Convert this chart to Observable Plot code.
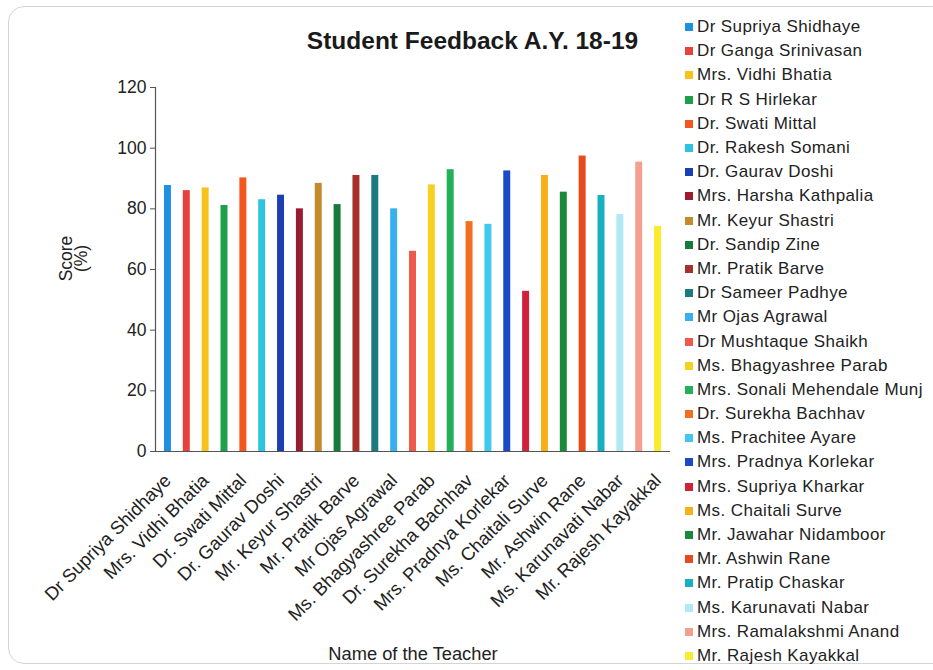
<!DOCTYPE html>
<html>
<head>
<meta charset="utf-8">
<script src="https://cdn.jsdelivr.net/npm/d3@7"></script>
<script src="https://cdn.jsdelivr.net/npm/@observablehq/plot@0.6"></script>
<style>
  body { margin: 0; background: #fff; }
  #wrap { position: relative; width: 933px; height: 670px; overflow: hidden; font-family: "Liberation Sans", Arial, sans-serif; }
  #frame { position: absolute; left: 8px; top: 6px; width: 940px; height: 658px; border: 1px solid #d4d4d4; border-radius: 16px; box-sizing: border-box; }
  #title { position: absolute; left: 0; width: 945px; top: 27px; text-align: center; font-weight: bold; font-size: 24.5px; color: #1a1a1a; }
  #legend { position: absolute; left: 685px; top: 15px; }
  .row { height: 24.2px; display: flex; align-items: center; font-size: 17px; color: #222; white-space: nowrap; letter-spacing: 0.4px; }
  .sw { width: 8px; height: 8px; margin-right: 4px; flex: none; }
  #chart { position: absolute; left: 0; top: 0; }
</style>
</head>
<body>
<div id="wrap">
  <div id="frame"></div>
  <div id="title">Student Feedback A.Y. 18-19</div>
  <div id="chart"></div>
  <div id="legend"></div>
</div>
<script>
const names = [
  "Dr Supriya Shidhaye", "Dr Ganga Srinivasan", "Mrs. Vidhi Bhatia", "Dr R S Hirlekar",
  "Dr. Swati Mittal", "Dr. Rakesh Somani", "Dr. Gaurav Doshi", "Mrs. Harsha Kathpalia",
  "Mr. Keyur Shastri", "Dr. Sandip Zine", "Mr. Pratik Barve", "Dr Sameer Padhye",
  "Mr Ojas Agrawal", "Dr Mushtaque Shaikh", "Ms. Bhagyashree Parab", "Mrs. Sonali Mehendale Munj",
  "Dr. Surekha Bachhav", "Ms. Prachitee Ayare", "Mrs. Pradnya Korlekar", "Mrs. Supriya Kharkar",
  "Ms. Chaitali Surve", "Mr. Jawahar Nidamboor", "Mr. Ashwin Rane", "Mr. Pratip Chaskar",
  "Ms. Karunavati Nabar", "Mrs. Ramalakshmi Anand", "Mr. Rajesh Kayakkal"
];
const scores = [
  87.7, 86.0, 86.9, 81.1, 90.2, 83.0, 84.5, 80.0, 88.4, 81.4, 91.0, 91.0, 80.0,
  66.0, 87.9, 92.9, 75.8, 74.9, 92.5, 52.8, 91.0, 85.5, 97.4, 84.4, 78.1, 95.4, 74.2
];
const colors = [
  "#1f8fe0", "#e8403a", "#f7c21a", "#1ea04a", "#f4561f", "#2cc4e0", "#1b3fb0", "#9b1b30",
  "#c48a2c", "#157a3a", "#a8302a", "#1a7a80", "#38b0f0", "#f0584a", "#f8d020", "#22b05a",
  "#f07020", "#40c8ee", "#1a4ac8", "#d0203a", "#f8b018", "#1a8a3a", "#e84a20", "#18b0c0",
  "#b0e8f4", "#f4a090", "#f8ec30"
];
const yTicks = [0, 20, 40, 60, 80, 100, 120];
const xTickLabels = names.filter((d, i) => i % 2 === 0);
const yLabel = "Score\n(%)";
const xLabel = "Name of the Teacher";

const data = names.map((name, i) => ({name, score: scores[i]}));

const chart = Plot.plot({
  width: 933,
  height: 670,
  marginLeft: 155,
  marginRight: 263,
  marginTop: 87,
  marginBottom: 219,
  style: {fontFamily: "'Liberation Sans', Arial, sans-serif", fontSize: "17px", color: "#222", background: "transparent", overflow: "visible"},
  x: {domain: names, paddingInner: 0.63, paddingOuter: 0.475, round: false, label: null},
  y: {domain: [0, 120], label: null},
  color: {domain: names, range: colors},
  marks: [
    Plot.barY(data, {x: "name", y: "score", fill: "name"}),
    Plot.axisY({ticks: yTicks, tickSize: 5, tickPadding: 4, fontSize: 17.5, stroke: "#555", label: null}),
    Plot.text([yLabel], {frameAnchor: "left", textAnchor: "middle", dx: -81, dy: -11, rotate: -90, fontSize: 17.5, lineHeight: 0.86, fill: "#222"}),
    Plot.axisX({ticks: xTickLabels, tickSize: 0, tickPadding: 26, tickRotate: -45, fontSize: 18.5, label: null}),
    Plot.text([xLabel], {frameAnchor: "bottom", dy: 208, fontSize: 18.3, fill: "#222"}),
    Plot.ruleY([0], {stroke: "#555", strokeWidth: 1.2}),
    Plot.frame({anchor: "left", stroke: "#555", strokeWidth: 1.2})
  ]
});
document.getElementById("chart").appendChild(chart);

const legend = document.getElementById("legend");
names.forEach((n, i) => {
  const row = document.createElement("div");
  row.className = "row";
  const sw = document.createElement("span");
  sw.className = "sw";
  sw.style.background = colors[i];
  const t = document.createElement("span");
  t.textContent = n;
  row.appendChild(sw);
  row.appendChild(t);
  legend.appendChild(row);
});
</script>
</body>
</html>
